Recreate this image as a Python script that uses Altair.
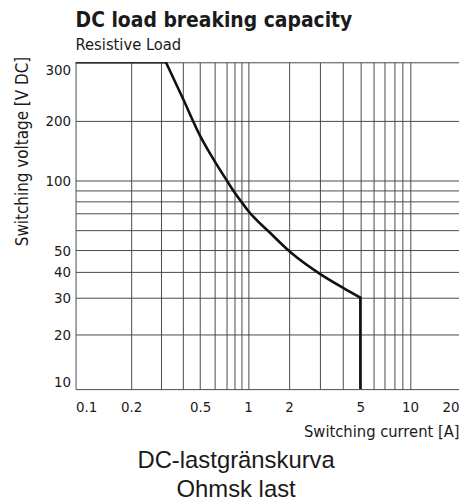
import altair as alt
import pandas as pd

# ---- data ----
flat_current = [0.1, 0.32]
flat_voltage = [300, 300]

curve_current = [0.32, 0.4, 0.5, 0.6, 0.7, 0.8, 0.9, 1.0, 1.5, 2, 3, 4, 5]
curve_voltage = [300, 233, 168, 126, 101, 88, 79, 72, 57.5, 49.5, 39, 33.5, 30]

drop_current = [5, 5]
drop_voltage = [30, 10]

x_grid = [0.1, 0.2, 0.3, 0.4, 0.5, 0.6, 0.7, 0.8, 0.9, 1, 2, 3, 4, 5, 6, 7, 8, 9, 10, 20]
x_labels = [0.1, 0.2, 0.5, 1, 2, 5, 10, 20]
y_grid = [10, 20, 30, 40, 50, 60, 70, 80, 90, 100, 200, 300]
y_labels = [10, 20, 30, 40, 50, 100, 200, 300]

W, H = 386, 329

rows = []
for seg, xs, ys in (("flat", flat_current, flat_voltage),
                    ("curve", curve_current, curve_voltage),
                    ("drop", drop_current, drop_voltage)):
    for i, (a, b) in enumerate(zip(xs, ys)):
        rows.append({"segment": seg, "order": i, "current": a, "voltage": b})
df = pd.DataFrame(rows)

NARROW = "DejaVu Sans Condensed, DejaVu Sans, sans-serif"
GRID = "#4a4a4a"
TEXT = "#1a1a1a"

def lab_expr(vals):
    arr = ",".join(str(v) for v in vals)
    return f"indexof([{arr}], datum.value) >= 0 ? format(datum.value, '~g') : ''"

x_axis = alt.Axis(
    values=x_grid, labelExpr=lab_expr(x_labels), title="Switching current [A]",
    titleAnchor="end", titleAlign="right", titleFont=NARROW, titleFontSize=16.5,
    titleFontWeight="normal", titleColor=TEXT, titlePadding=9,
    labelFont=NARROW, labelFontSize=15, labelColor=TEXT, labelFlush=True,
    labelOverlap=False, labelPadding=11, ticks=False, domain=False,
    grid=True, gridColor=GRID, gridWidth=1, gridOpacity=1,
)
y_axis = alt.Axis(
    values=y_grid, labelExpr=lab_expr(y_labels), title="Switching voltage [V DC]",
    titleAnchor="end", titleAlign="right", titleY=-6,
    titleFont=NARROW, titleFontSize=17, titleFontWeight="normal", titleColor=TEXT,
    titlePadding=14, labelFont=NARROW, labelFontSize=15, labelColor=TEXT,
    labelFlush=True, labelOverlap=False, labelPadding=5, ticks=False, domain=False,
    grid=True, gridColor=GRID, gridWidth=1, gridOpacity=1,
)

# the reference's log axes are not uniform: piecewise log scales reproduce them
x_scale = alt.Scale(type="log", nice=False,
                    domain=[0.1, 0.2, 0.3, 0.5, 0.7, 1, 2, 3, 5, 10, 20],
                    range=[0, 56, 86, 125.4, 151.7, 173.7, 215, 246, 286.7, 336.7, W])
y_scale = alt.Scale(type="log", nice=False,
                    domain=[10, 20, 30, 40, 50, 70, 100, 200, 300],
                    range=[H, 274, 237, 210.7, 189, 152, 119, 59, 0])

plot = alt.Chart(df).mark_line(
    color="#111111", strokeWidth=2.6, interpolate="monotone", strokeCap="round",
    strokeJoin="round", clip=True,
).encode(
    x=alt.X("current:Q", scale=x_scale, axis=x_axis),
    y=alt.Y("voltage:Q", scale=y_scale, axis=y_axis),
    detail="segment:N",
    order="order:Q",
).properties(
    width=W, height=H,
    title=alt.TitleParams(
        "DC load breaking capacity", subtitle="Resistive Load", anchor="start",
        frame="group", font=NARROW, fontSize=21, fontWeight="bold", color=TEXT,
        subtitleFont=NARROW, subtitleFontSize=16.5, subtitleColor=TEXT,
        subtitlePadding=6, offset=3,
    ),
)

chart = alt.vconcat(plot).properties(
    title=alt.TitleParams(
        ["DC-lastgränskurva", "Ohmsk last"], orient="bottom", anchor="middle",
        font="Liberation Sans, Arial, sans-serif", fontSize=24, fontWeight="normal",
        color=TEXT, lineHeight=29, offset=9,
    ),
    padding={"left": 5, "top": 0, "right": 0, "bottom": 0},
).configure_view(stroke=None)

chart.save("out.html", embed_options={"renderer": "svg", "actions": False})
